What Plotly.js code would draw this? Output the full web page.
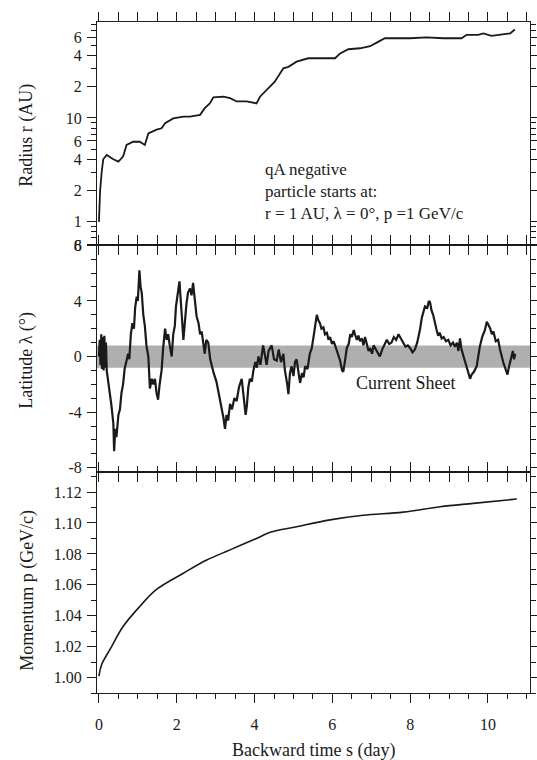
<!DOCTYPE html>
<html>
<head>
<meta charset="utf-8">
<script src="https://cdn.plot.ly/plotly-3.0.1.min.js"></script>
<style>
  html, body { margin: 0; padding: 0; background: #fff; }
  #chart { width: 537px; height: 760px; }
</style>
</head>
<body>
<div id="chart"></div>
<script>
// ---------------- DATA ----------------
// Panel 1: Radius r (AU), log scale
const radiusTime = [0.00, 0.03, 0.07, 0.11, 0.20, 0.37, 0.50, 0.62, 0.71, 0.88, 1.05, 1.18, 1.27, 1.48, 1.61, 1.70, 1.91, 2.17, 2.34, 2.60, 2.72, 2.85, 2.94, 3.20, 3.37, 3.54, 3.80, 4.05, 4.14, 4.31, 4.52, 4.74, 4.87, 5.08, 5.38, 5.68, 6.07, 6.20, 6.41, 6.71, 6.97, 7.14, 7.35, 8.00, 8.42, 8.85, 9.32, 9.45, 9.75, 9.88, 10.09, 10.57, 10.69];
const radiusAU   = [1.00, 2.0, 3.0, 4.0, 4.4, 4.0, 3.8, 4.25, 5.5, 5.9, 5.9, 5.5, 7.1, 7.7, 7.95, 8.9, 9.9, 10.3, 10.3, 10.7, 12.4, 13.8, 15.8, 16.0, 15.5, 14.4, 14.4, 13.8, 16.0, 18.6, 22.3, 30.0, 31.0, 34.8, 37.5, 37.5, 37.5, 41.8, 45.8, 46.8, 49.0, 53.0, 58.4, 58.4, 59.7, 58.4, 58.4, 63.0, 63.0, 65.0, 61.6, 65.0, 71.0];

// Panel 2: Latitude lambda (deg)
const latTime = [0.00,0.02,0.04,0.06,0.08,0.10,0.12,0.14,0.16,0.18,0.20,0.24,0.28,0.32,0.37,0.39,0.42,0.45,0.50,0.54,0.58,0.62,0.66,0.70,0.75,0.78,0.82,0.86,0.90,0.93,0.97,1.00,1.04,1.07,1.10,1.14,1.18,1.22,1.27,1.31,1.36,1.40,1.44,1.48,1.52,1.56,1.61,1.65,1.70,1.74,1.78,1.82,1.87,1.91,1.95,1.98,2.01,2.04,2.07,2.10,2.14,2.17,2.21,2.25,2.29,2.34,2.38,2.42,2.46,2.51,2.56,2.60,2.64,2.68,2.72,2.76,2.81,2.86,2.90,2.95,3.02,3.08,3.15,3.20,3.24,3.28,3.32,3.37,3.42,3.48,3.54,3.60,3.67,3.72,3.77,3.80,3.84,3.88,3.93,3.97,4.02,4.06,4.10,4.15,4.22,4.26,4.31,4.36,4.44,4.50,4.57,4.62,4.68,4.74,4.78,4.84,4.87,4.91,4.95,5.00,5.04,5.08,5.13,5.17,5.22,5.26,5.30,5.36,5.42,5.47,5.51,5.55,5.60,5.64,5.68,5.72,5.77,5.81,5.86,5.90,5.94,5.99,6.03,6.07,6.12,6.16,6.20,6.25,6.28,6.33,6.37,6.42,6.46,6.50,6.55,6.58,6.63,6.67,6.71,6.76,6.80,6.84,6.89,6.93,6.97,7.02,7.06,7.10,7.16,7.22,7.28,7.34,7.40,7.46,7.52,7.58,7.64,7.70,7.76,7.82,7.88,7.94,8.00,8.06,8.12,8.18,8.25,8.30,8.34,8.38,8.44,8.48,8.51,8.55,8.59,8.64,8.68,8.72,8.76,8.81,8.86,8.92,8.98,9.04,9.10,9.15,9.20,9.24,9.28,9.32,9.37,9.43,9.49,9.54,9.58,9.64,9.71,9.75,9.79,9.85,9.92,9.97,10.01,10.06,10.10,10.14,10.20,10.26,10.31,10.35,10.40,10.44,10.50,10.55,10.61,10.64,10.67,10.70];
const latDeg  = [0.0,1.2,-0.6,1.6,-0.9,1.4,-1.0,1.5,-0.8,1.0,-1.0,-1.8,-2.4,-3.5,-4.8,-6.8,-5.2,-5.8,-4.2,-3.8,-2.6,-2.0,-0.9,-0.4,0.2,-0.2,1.6,2.4,2.0,3.5,4.3,4.0,6.2,5.0,4.6,3.0,2.2,0.8,0.0,-2.3,-1.6,-2.0,-1.6,-2.6,-3.1,-2.0,-1.0,0.6,2.0,1.2,1.6,0.8,0.0,1.6,2.2,3.6,4.4,4.8,5.4,3.8,2.5,1.2,2.8,3.8,4.6,4.9,4.4,5.3,4.2,2.9,2.4,1.6,1.8,0.8,0.2,1.2,1.0,-0.2,-0.7,-1.2,-1.8,-2.6,-3.6,-4.4,-5.2,-4.2,-4.6,-3.4,-3.8,-3.0,-3.2,-2.2,-1.6,-2.8,-4.2,-3.6,-2.2,-1.6,-1.8,-1.0,-0.4,-0.8,0.0,-0.6,0.8,0.2,-0.6,0.4,0.8,-0.2,-0.3,0.5,-0.4,0.2,-1.0,-2.0,-2.7,-1.2,-0.7,-1.4,-0.4,-0.2,-1.2,-1.9,-1.2,-1.5,-0.7,-0.9,0.2,0.6,1.3,2.2,3.0,2.6,2.4,2.0,2.1,1.6,1.7,1.2,1.4,0.9,1.1,0.8,0.3,0.0,-0.3,-1.0,-1.1,-0.2,0.6,0.9,1.6,1.4,1.9,1.6,1.2,1.5,1.1,1.3,0.8,1.4,0.9,0.4,0.6,0.2,0.8,0.6,0.2,0.0,0.5,0.9,1.2,0.9,1.0,1.4,1.2,1.6,1.3,1.0,0.7,0.8,0.6,0.3,0.5,1.0,1.9,2.8,3.2,3.6,3.5,4.0,3.9,3.3,3.0,2.3,1.9,1.5,1.7,1.3,1.4,1.1,1.2,0.8,1.0,0.7,1.0,0.4,1.3,0.5,0.0,-0.6,-1.2,-1.6,-1.3,-1.1,-0.7,0.0,0.7,1.4,1.9,2.5,2.3,2.0,1.6,1.8,1.1,1.2,0.5,0.0,-0.5,-0.8,-1.3,-0.6,0.0,0.4,-0.2,0.2];

// Current sheet half thickness (deg)
const sheetHalfWidth = 0.8;

// Panel 3: Momentum p (GeV/c)
const momTime = [0.00, 0.07, 0.28, 0.62, 1.05, 1.48, 2.17, 2.77, 3.37, 4.05, 4.40, 5.08, 5.94, 6.79, 7.82, 8.77, 9.62, 10.74];
const momGeV  = [1.001, 1.0084, 1.018, 1.033, 1.046, 1.057, 1.0675, 1.076, 1.0826, 1.090, 1.094, 1.0976, 1.102, 1.105, 1.107, 1.1105, 1.1127, 1.1155];

// Tick labels
const radiusTickVals = [0.6, 1, 2, 4, 6, 10, 20, 40, 60];
const radiusTickText = ['6', '1', '2', '4', '6', '10', '2', '4', '6'];
const radiusMinorVals = [0.7, 0.8, 0.9, 3, 5, 7, 8, 9, 30, 50, 70, 80];
const latTickVals = [-8, -4, 0, 4, 8];
const latTickText = ['-8', '-4', '0', '4', '8'];
const momTickVals = [1.00, 1.02, 1.04, 1.06, 1.08, 1.10, 1.12];
const timeTickVals = [0, 2, 4, 6, 8, 10];

const labelText = 'qA negative<br>particle starts at:<br>r = 1 AU, λ = 0°, p =1 GeV/c';
const sheetText = 'Current Sheet';
const titles = {
  r: 'Radius r (AU)',
  lat: 'Latitude λ (°)',
  p: 'Momentum p (GeV/c)',
  s: 'Backward time s (day)'
};

// ---------------- PLOT ----------------
const FONT = '"Liberation Serif", "Times New Roman", serif';
const INK = '#1a1a1a';

const traces = [
  { x: radiusTime, y: radiusAU, xaxis: 'x', yaxis: 'y3', mode: 'lines',
    line: { color: INK, width: 1.8 }, hoverinfo: 'skip' },
  { x: latTime, y: latDeg, xaxis: 'x', yaxis: 'y2', mode: 'lines',
    line: { color: INK, width: 2.2 }, hoverinfo: 'skip' },
  { x: momTime, y: momGeV, xaxis: 'x', yaxis: 'y', mode: 'lines',
    line: { color: INK, width: 1.6, shape: 'spline' }, hoverinfo: 'skip' }
];

const yCommon = {
  showline: true, linecolor: INK, linewidth: 1, mirror: 'ticks',
  ticks: 'outside', ticklen: 9, tickwidth: 1, tickcolor: INK,
  showgrid: false, zeroline: false,
  tickfont: { family: FONT, size: 16, color: INK },
  ticklabelstandoff: 2
};

const layout = {
  width: 537, height: 760,
  margin: { l: 97, r: 7, t: 22, b: 67 },
  paper_bgcolor: '#fff', plot_bgcolor: '#fff',
  showlegend: false,
  font: { family: FONT, color: INK },
  xaxis: {
    range: [-0.05, 11.08],
    tickmode: 'array', tickvals: timeTickVals,
    showline: true, linecolor: INK, linewidth: 1, mirror: 'allticks',
    ticks: 'outside', ticklen: 9, tickwidth: 1, tickcolor: INK,
    minor: { dtick: 0.5, ticks: 'outside', ticklen: 5, tickcolor: INK, tickwidth: 1 },
    showgrid: false, zeroline: false,
    tickfont: { family: FONT, size: 16, color: INK },
    ticklabelstandoff: 8,
    anchor: 'y'
  },
  yaxis: Object.assign({}, yCommon, {
    domain: [0, 0.3294], anchor: 'x',
    range: [0.990, 1.133],
    tickmode: 'array', tickvals: momTickVals, tickformat: '.2f',
    minor: { dtick: 0.01, ticks: 'outside', ticklen: 5, tickcolor: INK, tickwidth: 1 }
  }),
  yaxis2: Object.assign({}, yCommon, {
    domain: [0.3294, 0.6677], anchor: 'x',
    range: [-8.3, 8.02],
    tickmode: 'array', tickvals: latTickVals, ticktext: latTickText,
    minor: { dtick: 1, ticks: 'outside', ticklen: 5, tickcolor: INK, tickwidth: 1 }
  }),
  yaxis3: Object.assign({}, yCommon, {
    domain: [0.6677, 1], anchor: 'x',
    type: 'log', range: [-0.2225, 1.923],
    tickmode: 'array', tickvals: radiusTickVals, ticktext: radiusTickText,
    minor: { tickmode: 'array', tickvals: radiusMinorVals, ticks: 'outside', ticklen: 5, tickcolor: INK, tickwidth: 1 }
  }),
  shapes: [
    { type: 'rect', xref: 'paper', yref: 'y2', x0: 0, x1: 1,
      y0: -sheetHalfWidth, y1: sheetHalfWidth,
      fillcolor: 'rgba(110,110,110,0.55)', line: { width: 0 }, layer: 'below' }
  ],
  annotations: [
    { text: labelText, xref: 'x', yref: 'paper', x: 4.22, y: 0.748,
      xanchor: 'left', yanchor: 'middle', align: 'left', showarrow: false,
      font: { family: FONT, size: 17, color: INK } },
    { text: sheetText, xref: 'x', yref: 'y2', x: 7.87, y: -1.9,
      xanchor: 'center', yanchor: 'middle', showarrow: false,
      font: { family: FONT, size: 18, color: INK } },
    { text: titles.r, xref: 'paper', yref: 'paper', x: -0.162, y: 0.8316,
      textangle: -90, xanchor: 'center', yanchor: 'middle', showarrow: false,
      font: { family: FONT, size: 18, color: INK } },
    { text: titles.lat, xref: 'paper', yref: 'paper', x: -0.162, y: 0.4963,
      textangle: -90, xanchor: 'center', yanchor: 'middle', showarrow: false,
      font: { family: FONT, size: 18, color: INK } },
    { text: titles.p, xref: 'paper', yref: 'paper', x: -0.162, y: 0.1535,
      textangle: -90, xanchor: 'center', yanchor: 'middle', showarrow: false,
      font: { family: FONT, size: 18, color: INK } },
    { text: titles.s, xref: 'paper', yref: 'paper', x: 0.5, y: -0.085,
      xanchor: 'center', yanchor: 'middle', showarrow: false,
      font: { family: FONT, size: 18, color: INK } }
  ]
};

Plotly.newPlot('chart', traces, layout, { staticPlot: true, displayModeBar: false });
</script>
</body>
</html>
